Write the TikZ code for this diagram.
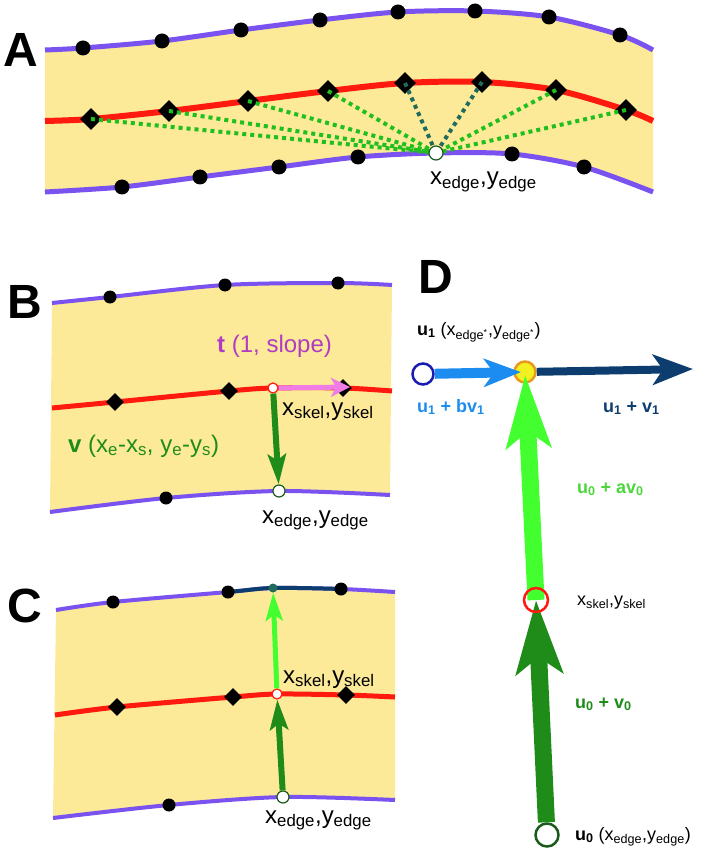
\documentclass[tikz,border=0pt]{standalone}
\usepackage{fontspec}
\setmainfont{Liberation Sans}
\usepackage{tikz}
\usetikzlibrary{shapes.geometric, arrows.meta, positioning}

\definecolor{bandyellow}{HTML}{FCEA98}
\definecolor{edgepurple}{HTML}{7A52F0}
\definecolor{skelred}{HTML}{FF1A10}
\definecolor{dotgreen}{HTML}{1FBF1F}
\definecolor{dotteal}{HTML}{226A5C}
\definecolor{markgreen}{HTML}{1D5A1D}
\definecolor{tpink}{HTML}{F07DE6}
\definecolor{tmagenta}{HTML}{B03CC4}
\definecolor{vgreen}{HTML}{1F8C1A}
\definecolor{lightgreen}{HTML}{44FF30}
\definecolor{avgreen}{HTML}{4CD63A}
\definecolor{ublue}{HTML}{1C8CF0}
\definecolor{unavy}{HTML}{0D3D6E}
\definecolor{ringblue}{HTML}{1A1AB4}
\definecolor{ringorange}{HTML}{E89A20}
\definecolor{ringyellow}{HTML}{F2F020}

\newcommand{\sbs}[1]{\textsubscript{#1}}

\begin{document}
\begin{tikzpicture}[x=1pt, y=-1pt,
    band/.style={fill=bandyellow},
    edgeline/.style={draw=edgepurple, line width=5pt},
    skelline/.style={draw=skelred, line width=6pt},
    dot/.style={circle, fill=black, inner sep=0pt, minimum size=15pt},
    skelpt/.style={diamond, fill=black, inner sep=0pt, minimum size=22pt},
    edgemark/.style={circle, draw=markgreen, fill=white, line width=1.2pt, inner sep=0pt, minimum size=14pt},
    skelmark/.style={circle, draw=skelred, fill=white, line width=1.2pt, inner sep=0pt, minimum size=10pt},
    dotline/.style={draw=dotgreen, line width=4pt, dash pattern=on 4pt off 4pt},
    tarrow/.style={-{Stealth[length=19pt, width=19pt, inset=5pt]}, draw=tpink, line width=5pt},
    varrow/.style={-{Stealth[length=30pt, width=18pt, inset=6pt]}, draw=vgreen, line width=6pt},
    larrow/.style={-{Stealth[length=28pt, width=17pt, inset=6pt]}, draw=lightgreen, line width=5pt},
    lbl/.style={anchor=base west, inner sep=0pt, font=\fontsize{24}{28}\selectfont},
    dlbl/.style={anchor=base west, inner sep=0pt, font=\fontsize{18}{22}\selectfont},
    panel/.style={anchor=base west, inner sep=0pt, font=\fontsize{48}{52}\selectfont\bfseries},
]
\useasboundingbox (0,0) rectangle (701,850);

% A
\fill[band] plot[smooth] coordinates {(45,50) (83,48) (162,41) (241,30) (320,20) (398,12) (475,11) (549,17) (620,35) (653,50)}
    -- plot[smooth] coordinates {(653,192) (584,167) (512,154) (436,153) (358,157) (279,167) (200,177) (122,187) (45,192)} -- cycle;
\draw[edgeline] plot[smooth] coordinates {(45,50) (83,48) (162,41) (241,30) (320,20) (398,12) (475,11) (549,17) (620,35) (653,50)};
\draw[skelline] plot[smooth] coordinates {(45,121) (91,119) (169,111) (248,101) (328,91) (405,83) (482,82) (556,90) (626,110) (653,121)};
\draw[edgeline] plot[smooth] coordinates {(45,192) (122,187) (200,177) (279,167) (358,157) (436,153) (512,154) (584,167) (653,192)};
\foreach \p [count=\i] in {(83,48),(162,41),(241,30),(320,20),(398,12),(475,11),(549,17),(620,35)}
    \node[dot] (atop\i) at \p {};
\foreach \p [count=\i] in {(122,187),(200,177),(279,167),(358,157),(512,154),(584,167)}
    \node[dot] (abot\i) at \p {};
\foreach \p [count=\i] in {(91,119),(169,111),(248,101),(328,91),(405,83),(482,82),(556,90),(626,110)}
    \node[skelpt] (askel\i) at \p {};
\coordinate (aedge) at (436,153);
\foreach \i in {1,2,3,4,7,8}
    \draw[dotline] (askel\i.center) -- (aedge);
\foreach \i in {5,6}
    \draw[dotline, draw=dotteal] (askel\i.center) -- (aedge);
\node[edgemark] (aedgept) at (aedge) {};
\node[lbl] (aedgelbl) at (430,185) {x\sbs{edge},y\sbs{edge}};
\node[panel] (apanel) at (3,67) {A};

% B
\fill[band] plot[smooth] coordinates {(52,303) (110,297) (225,285) (338,283) (392,285)}
    -- plot[smooth] coordinates {(390,495) (279,491) (166,498) (50,512)} -- cycle;
\draw[edgeline, line width=4pt] plot[smooth] coordinates {(52,303) (110,297) (225,285) (338,283) (392,285)};
\draw[skelline, line width=5pt] plot[smooth] coordinates {(52,408) (115,402) (229,391) (273,388) (343,388) (392,391)};
\draw[edgeline, line width=4pt] plot[smooth] coordinates {(50,512) (166,498) (279,491) (390,495)};
\foreach \p [count=\i] in {(110,297),(225,285),(338,283)}
    \node[dot, minimum size=13pt] (btop\i) at \p {};
\node[dot, minimum size=13pt] (bbot1) at (166,498) {};
\foreach \p [count=\i] in {(115,402),(229,391),(343,388)}
    \node[skelpt, minimum size=18pt] (bskel\i) at \p {};
\node[skelmark] (bskel) at (273,388) {};
\node[edgemark, minimum size=12pt] (bedge) at (279,491) {};
\coordinate (btan) at (350,387);
\draw[tarrow] (bskel) -- (btan);
\draw[varrow] (bskel) -- (bedge);
\node[lbl, text=tmagenta] (tlbl) at (217,352) {\textbf{t} (1, slope)};
\node[lbl, text=vgreen] (vlbl) at (68,452) {\textbf{v} (x\sbs{e}-x\sbs{s}, y\sbs{e}-y\sbs{s})};
\node[lbl] (bskellbl) at (282,415) {x\sbs{skel},y\sbs{skel}};
\node[lbl] (bedgelbl) at (262,523) {x\sbs{edge},y\sbs{edge}};
\node[panel] (bpanel) at (7,318) {B};

% C
\fill[band] plot[smooth] coordinates {(56,610) (113,602) (228,592) (273,588) (341,589) (395,592)}
    -- plot[smooth] coordinates {(395,800) (283,797) (169,805) (53,818)} -- cycle;
\draw[edgeline, line width=4pt] plot[smooth] coordinates {(56,610) (113,602) (228,592) (273,588) (341,589) (395,592)};
\begin{scope}
    \clip (228,560) rectangle (341,620);
    \draw[edgeline, line width=4pt, draw=unavy] plot[smooth] coordinates {(56,610) (113,602) (228,592) (273,588) (341,589) (395,592)};
\end{scope}
\draw[skelline, line width=5pt] plot[smooth] coordinates {(55,715) (117,707) (233,697) (277,694) (346,695) (395,697)};
\draw[edgeline, line width=4pt] plot[smooth] coordinates {(53,818) (169,805) (283,797) (395,800)};
\foreach \p [count=\i] in {(113,602),(228,592),(341,589)}
    \node[dot, minimum size=13pt] (ctop\i) at \p {};
\node[dot, minimum size=13pt] (cbot1) at (169,805) {};
\foreach \p [count=\i] in {(117,707),(233,697),(346,695)}
    \node[skelpt, minimum size=18pt] (cskel\i) at \p {};
\node[circle, fill=dotteal, inner sep=0pt, minimum size=9pt] (cnew) at (273,588) {};
\node[skelmark] (cskel) at (277,694) {};
\node[edgemark, minimum size=12pt] (cedge) at (283,797) {};
\draw[varrow] (cedge) -- (cskel);
\draw[larrow] (cskel) -- (cnew);
\node[lbl] (cskellbl) at (283,683) {x\sbs{skel},y\sbs{skel}};
\node[lbl] (cedgelbl) at (265,823) {x\sbs{edge},y\sbs{edge}};
\node[panel] (cpanel) at (7,622) {C};

% D
\node[circle, draw=ringblue, fill=white, line width=2.5pt, inner sep=0pt, minimum size=21pt] (u1b) at (423,374) {};
\node[circle, draw=ringorange, fill=ringyellow, line width=2.5pt, inner sep=0pt, minimum size=21pt] (u1) at (525,372) {};
\node[circle, draw=markgreen, fill=white, line width=2.5pt, inner sep=0pt, minimum size=23pt] (u0) at (547,835) {};
\coordinate (dskelc) at (536,600);
\coordinate (u1v) at (693,369);
\draw[-{Stealth[length=40pt, width=30pt, inset=10pt]}, draw=unavy, line width=8pt] (u1) -- (u1v);
\draw[-{Stealth[length=37pt, width=28pt, inset=10pt]}, draw=ublue, line width=10pt, shorten >=4pt] (u1b) -- (u1.center);
\draw[-{Stealth[length=72pt, width=44pt, inset=16pt]}, draw=lightgreen, line width=17pt, shorten >=3pt] (dskelc) -- (u1.center);
\draw[-{Stealth[length=73pt, width=46pt, inset=16pt]}, draw=vgreen, line width=17pt] (u0) -- (dskelc);
\node[circle, draw=skelred, line width=2.5pt, inner sep=0pt, minimum size=24pt] (dskel) at (dskelc) {};
\node[dlbl] (u1lbl) at (417,335) {\textbf{u\sbs{1}} (x\sbs{edge\textsuperscript{*}},y\sbs{edge\textsuperscript{*}})};
\node[dlbl, text=ublue] (bvlbl) at (417,412) {\textbf{u\sbs{1} + bv\sbs{1}}};
\node[dlbl, text=unavy] (vlbl1) at (603,412) {\textbf{u\sbs{1} + v\sbs{1}}};
\node[dlbl, text=avgreen] (avlbl) at (577,493) {\textbf{u\sbs{0} + av\sbs{0}}};
\node[dlbl] (dskellbl) at (577,605) {x\sbs{skel},y\sbs{skel}};
\node[dlbl, text=vgreen] (v0lbl) at (575,708) {\textbf{u\sbs{0} + v\sbs{0}}};
\node[dlbl] (u0lbl) at (575,840) {\textbf{u\sbs{0}} (x\sbs{edge},y\sbs{edge})};
\node[panel] (dpanel) at (418,293) {D};
\end{tikzpicture}
\end{document}
